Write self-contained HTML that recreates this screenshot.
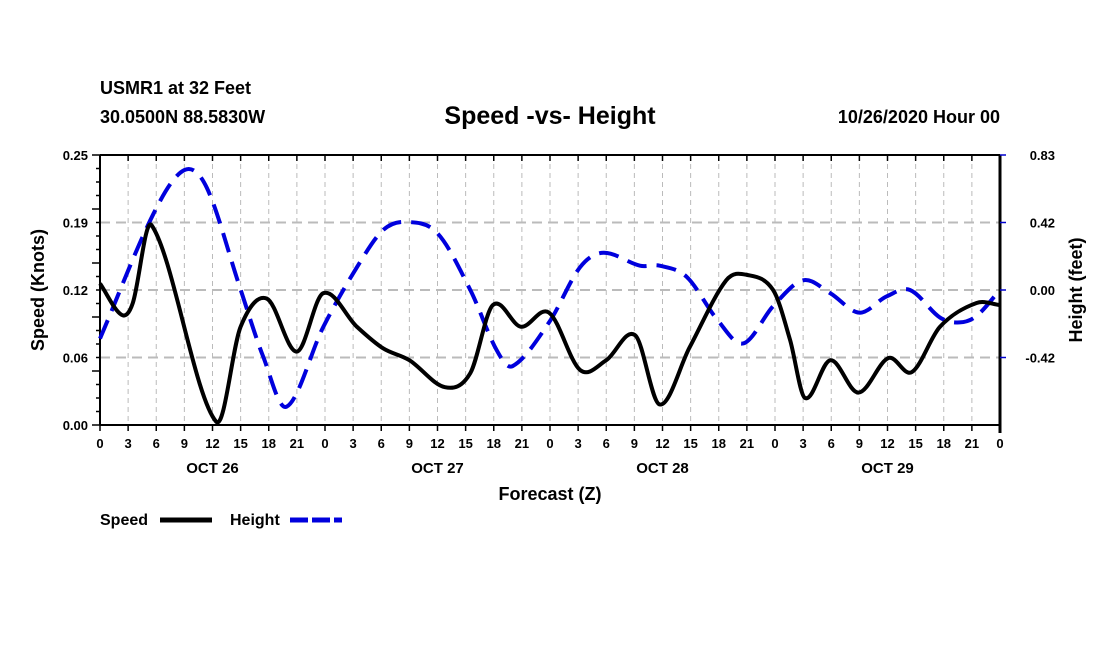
<!DOCTYPE html>
<html><head><meta charset="utf-8"><style>
body{margin:0;background:#fff;}
svg text{font-family:"Liberation Sans",sans-serif;font-weight:bold;fill:#000;}
</style></head><body>
<svg id="chart" width="1100" height="650" xmlns="http://www.w3.org/2000/svg">
<text x="100" y="94" font-size="18">USMR1 at 32 Feet</text>
<text x="100" y="123" font-size="18">30.0500N 88.5830W</text>
<text x="550" y="124" font-size="25" text-anchor="middle">Speed -vs- Height</text>
<text x="1000" y="123" font-size="18" text-anchor="end">10/26/2020 Hour 00</text>
<g id="grid"></g><g id="axes"></g><g id="series"></g>
<text transform="translate(44,290) rotate(-90)" font-size="18" text-anchor="middle">Speed (Knots)</text>
<text transform="translate(1082,290) rotate(-90)" font-size="18" text-anchor="middle">Height (feet)</text>
<text x="550" y="500" font-size="18" text-anchor="middle">Forecast (Z)</text>
<g><text x="100" y="525" font-size="16">Speed</text><line x1="160" y1="520" x2="212" y2="520" stroke="#000" stroke-width="5"/></g>
<g><text x="230" y="525" font-size="16">Height</text><line x1="290" y1="520" x2="342" y2="520" stroke="#0000dd" stroke-width="5" stroke-dasharray="18,4"/></g>
</svg>
<script>
const speedHours=[0,2.3,3.5,5.5,12.4,15,17.8,21,23.8,27.4,30.2,33,36.8,39.5,41.9,44.9,47.9,51.2,54,57.1,59.7,62.9,66.8,69,71.8,73.6,75.2,77.9,80.9,84.1,86.6,89.6,93.5,96];
const speedValues=[0.131,0.102,0.113,0.185,0.003,0.091,0.117,0.068,0.122,0.091,0.071,0.060,0.035,0.048,0.111,0.091,0.104,0.051,0.060,0.083,0.019,0.072,0.134,0.139,0.125,0.079,0.025,0.060,0.030,0.062,0.049,0.091,0.113,0.111];
const heightHours=[0,5.7,9,11.4,14.9,17.4,19.9,23.8,27.4,30.2,32.7,36,39.5,42.3,44,47.9,51.2,53.7,57.6,59.7,62.6,65.8,68.6,71.8,75,77.9,81,83.9,86.4,89.6,91.7,93.5,96];
const heightValues=[-0.30,0.47,0.74,0.63,0.02,-0.41,-0.72,-0.23,0.14,0.37,0.42,0.35,0.0,-0.37,-0.47,-0.20,0.14,0.23,0.15,0.15,0.08,-0.18,-0.33,-0.10,0.06,-0.02,-0.14,-0.04,0.0,-0.17,-0.20,-0.16,0.0];
const leftTicks=["0.00","0.06","0.12","0.19","0.25"];
const rightTicks=["-0.83","-0.42","0.00","0.42","0.83"];
const dayLabels=["OCT 26","OCT 27","OCT 28","OCT 29"];
const X0=100,X1=1000,Y0=155,Y1=425;
const xs=h=>X0+(h/96)*(X1-X0);
const ySpeed=v=>Y1-(v/0.25)*(Y1-Y0);
const yHeight=v=>(Y0+Y1)/2-(v/0.833)*(Y1-Y0)/2;
const NS="http://www.w3.org/2000/svg";
function mk(tag,attrs,parent){const e=document.createElementNS(NS,tag);for(const k in attrs)e.setAttribute(k,attrs[k]);parent.appendChild(e);return e;}
const grid=document.getElementById('grid'),axes=document.getElementById('axes'),series=document.getElementById('series');
for(let h=3;h<96;h+=3){const l=mk('line',{x1:xs(h),x2:xs(h),y1:Y0,y2:Y1,stroke:'#bbb','stroke-width':1,'stroke-dasharray':'5,4'},grid);

}
for(let i=1;i<4;i++){const y=Y1-i*(Y1-Y0)/4;const l=mk('line',{x1:X0,x2:X1,y1:y,y2:y,stroke:'#bbb','stroke-width':2,'stroke-dasharray':'10,6'},grid);

}
mk('line',{x1:X0,x2:X1,y1:Y0,y2:Y0,stroke:'#000','stroke-width':2},axes);
mk('line',{x1:X0,x2:X1,y1:Y1,y2:Y1,stroke:'#000','stroke-width':2},axes);
mk('line',{x1:X0,x2:X0,y1:Y0,y2:Y1,stroke:'#000','stroke-width':2},axes);
mk('line',{x1:X1,x2:X1,y1:Y0,y2:Y1+8,stroke:'#000','stroke-width':3},axes);
for(let h=0;h<=96;h+=3){const x=xs(h);
mk('line',{x1:x,x2:x,y1:Y1,y2:Y1+6,stroke:'#000','stroke-width':1.5},axes);
mk('line',{x1:x,x2:x,y1:Y0,y2:Y0+6,stroke:'#000','stroke-width':1.5},axes);
const t=mk('text',{x:x,y:Y1+23,'font-size':13,'text-anchor':'middle'},axes);t.textContent=String(h%24);

}
for(let i=0;i<dayLabels.length;i++){const t=mk('text',{x:xs(i*24+12),y:Y1+48,'font-size':15,'text-anchor':'middle'},axes);t.textContent=dayLabels[i];

}
for(let i=0;i<=20;i++){const y=Y1-i*(Y1-Y0)/20;mk('line',{x1:X0-(i%4==0?8:4),x2:X0,y1:y,y2:y,stroke:'#000','stroke-width':1.5},axes);}
for(let i=0;i<leftTicks.length;i++){const y=Y1-i*(Y1-Y0)/4;const t=mk('text',{x:X0-12,y:y+5,'font-size':13,'text-anchor':'end'},axes);t.textContent=leftTicks[i];

}
for(let i=1;i<rightTicks.length;i++){const y=Y1-i*(Y1-Y0)/4;mk('line',{x1:X1,x2:X1+6,y1:y,y2:y,stroke:'#00c','stroke-width':1.5},axes);
const t=mk('text',{x:X1+55,y:y+5,'font-size':13,'text-anchor':'end'},axes);t.textContent=rightTicks[i];

}
function smooth(pts){const n=pts.length;const m=pts.map((p,i)=>{const a=pts[Math.max(0,i-1)],b=pts[Math.min(n-1,i+1)];return (b[1]-a[1])/(b[0]-a[0]);});
let d=`M${pts[0][0]},${pts[0][1]}`;for(let i=0;i<n-1;i++){const p1=pts[i],p2=pts[i+1],dx=(p2[0]-p1[0])/3;
d+=` C${p1[0]+dx},${p1[1]+m[i]*dx} ${p2[0]-dx},${p2[1]-m[i+1]*dx} ${p2[0]},${p2[1]}`;}return d;}
const hp=mk('path',{d:smooth(heightHours.map((h,i)=>[xs(h),yHeight(heightValues[i])])),fill:'none',stroke:'#0000dd','stroke-width':4,'stroke-dasharray':'20,10'},series);


const sp=mk('path',{d:smooth(speedHours.map((h,i)=>[xs(h),ySpeed(speedValues[i])])),fill:'none',stroke:'#000','stroke-width':4},series);


</script>
</body></html>
